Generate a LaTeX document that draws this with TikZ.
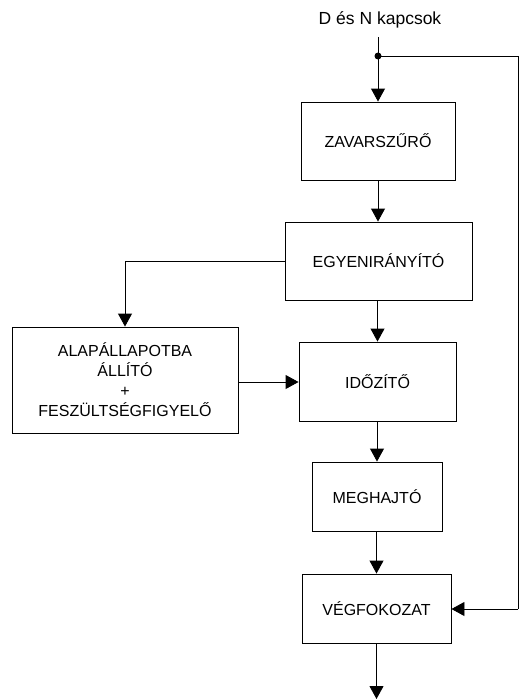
\documentclass[tikz,border=0pt]{standalone}
\usepackage{fontspec}
\setmainfont{Liberation Sans}
\usetikzlibrary{arrows.meta}
\begin{document}
\begin{tikzpicture}[x=1pt,y=-1pt,
  blk/.style={draw, line width=0.9pt, rectangle, inner sep=0pt, align=center,
    font=\fontsize{16}{20}\selectfont},
  conn/.style={line width=0.9pt},
  arr/.style={conn, -{Triangle[length=13pt,width=14pt]}},
]
\useasboundingbox (0,0) rectangle (520,699);
\node[font=\fontsize{17.5}{20}\selectfont] (title) at (380,20) {D és N kapcsok};
\coordinate (top) at (378,37);
\coordinate (jn) at (378,56);
\coordinate (rc) at (518,56);
\coordinate (rb) at (518,609);
\coordinate (bot) at (378,699);
\node[blk, minimum width=154pt, minimum height=78pt] (zav) at (378,141) {ZAVARSZŰRŐ};
\node[blk, minimum width=187pt, minimum height=78pt] (egy) at (378.5,261) {EGYENIRÁNYÍTÓ};
\node[blk, minimum width=157pt, minimum height=79pt] (ido) at (377.5,381.5) {IDŐZÍTŐ};
\node[blk, minimum width=130pt, minimum height=69pt] (meg) at (377,496.5) {MEGHAJTÓ};
\node[blk, minimum width=149pt, minimum height=69pt] (veg) at (376.5,608.5) {VÉGFOKOZAT};
\node[blk, minimum width=226pt, minimum height=106pt] (ala) at (125,380) {ALAPÁLLAPOTBA\\ÁLLÍTÓ\\+\\FESZÜLTSÉGFIGYELŐ};
\draw[conn] (top) -- (jn);
\draw[arr] (jn) -- (zav.north);
\fill (jn) circle (3.5pt);
\draw[conn] (jn) -- (rc) -- (rb);
\draw[arr] (rb) -- (veg.east |- rb);
\draw[arr] (zav.south) -- (egy.north -| zav.south);
\draw[arr] (egy.south -| ido.north) -- (ido.north);
\draw[arr] (ido.south -| meg.north) -- (meg.north);
\draw[arr] (meg.south -| veg.north) -- (veg.north);
\draw[arr] (veg.south) -- (bot -| veg.south);
\draw[arr] (egy.west) -| (ala.north);
\draw[arr] (ala.east |- 0,382) -- (ido.west |- 0,382);
\end{tikzpicture}
\end{document}
